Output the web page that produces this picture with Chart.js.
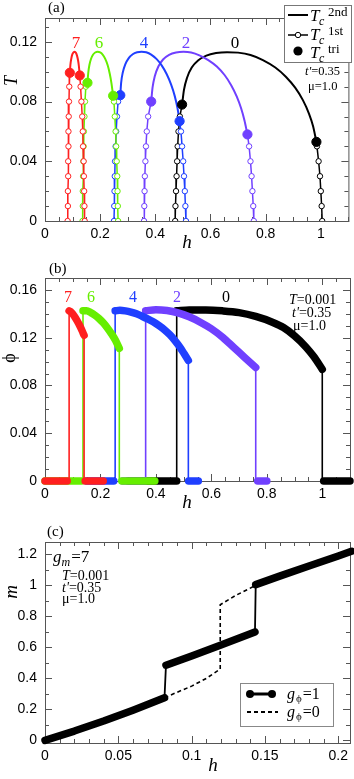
<!DOCTYPE html>
<html lang="en">
<head>
<meta charset="UTF-8">
<title>Phase diagram T-h, order parameter and magnetization</title>
<script src="https://cdn.jsdelivr.net/npm/chart.js"></script>
<style>
  body { margin: 0; background: #fff; }
  .wrap { position: relative; width: 354px; height: 779px; }
  canvas { position: absolute; left: 0; }
</style>
</head>
<body>
<div class="wrap">
  <canvas id="chartA" width="354" height="250" style="top:0;width:354px;height:250px"></canvas>
  <canvas id="chartB" width="354" height="260" style="top:250px;width:354px;height:260px"></canvas>
  <canvas id="chartC" width="354" height="269" style="top:510px;width:354px;height:269px"></canvas>
</div>
<script>
// ---------- panel (a): T vs h ----------
const aXTicks = [0, 0.2, 0.4, 0.6, 0.8, 1];
const aYTicks = [0, 0.04, 0.08, 0.12];
const gmLabels = ['7', '6', '4', '2', '0'];

// T_c^2nd line [h, T]; first and last points are the tricritical points
const dome7 = [[0.090,0.0993],[0.092,0.1045],[0.095,0.1085],[0.099,0.1116],[0.104,0.1131],[0.108,0.1134],[0.112,0.1127],[0.116,0.1108],[0.120,0.1075],[0.123,0.1035],[0.126,0.0975]];
const dome6 = [[0.154,0.0926],[0.157,0.0995],[0.161,0.1045],[0.167,0.1087],[0.174,0.1114],[0.182,0.1129],[0.191,0.1134],[0.200,0.1129],[0.209,0.1115],[0.218,0.1088],[0.227,0.1045],[0.235,0.0985],[0.241,0.0922],[0.247,0.0839]];
const dome4 = [[0.273,0.0843],[0.276,0.0925],[0.282,0.0995],[0.291,0.1050],[0.303,0.1090],[0.318,0.1117],[0.334,0.1130],[0.350,0.1134],[0.367,0.1130],[0.385,0.1115],[0.404,0.1086],[0.423,0.1043],[0.441,0.0985],[0.457,0.0915],[0.470,0.0840],[0.480,0.0760],[0.488,0.0669]];
const dome2 = [[0.385,0.0800],[0.390,0.0895],[0.398,0.0970],[0.411,0.1035],[0.428,0.1082],[0.450,0.1113],[0.475,0.1129],[0.502,0.1134],[0.530,0.1129],[0.560,0.1110],[0.592,0.1078],[0.623,0.1035],[0.651,0.0978],[0.675,0.0910],[0.695,0.0835],[0.711,0.0755],[0.723,0.0675],[0.734,0.0580]];
const dome0 = [[0.497,0.0780],[0.504,0.0880],[0.515,0.0960],[0.532,0.1028],[0.556,0.1077],[0.585,0.1108],[0.620,0.1125],[0.660,0.1131],[0.700,0.1128],[0.745,0.1112],[0.790,0.1078],[0.835,0.1028],[0.874,0.0965],[0.907,0.0893],[0.935,0.0810],[0.957,0.0720],[0.972,0.0635],[0.984,0.0530]];

// T_c^1st (open circles), low-h and high-h branch, from top down to T=0
const first7L = [[0.088,0.09],[0.087,0.08],[0.086,0.07],[0.085,0.06],[0.085,0.05],[0.084,0.04],[0.084,0.03],[0.083,0.02],[0.083,0.01],[0.082,0]];
const first7R = [[0.129,0.09],[0.132,0.08],[0.135,0.07],[0.137,0.06],[0.138,0.05],[0.140,0.04],[0.141,0.03],[0.142,0.02],[0.143,0.01],[0.144,0]];
const first6L = [[0.148,0.09],[0.145,0.08],[0.143,0.07],[0.141,0.06],[0.140,0.05],[0.139,0.04],[0.138,0.03],[0.137,0.02],[0.137,0.01],[0.136,0]];
const first6R = [[0.250,0.08],[0.253,0.07],[0.256,0.06],[0.258,0.05],[0.260,0.04],[0.262,0.03],[0.263,0.02],[0.264,0.01],[0.265,0]];
const first4L = [[0.265,0.08],[0.261,0.07],[0.258,0.06],[0.256,0.05],[0.254,0.04],[0.253,0.03],[0.252,0.02],[0.251,0.01],[0.250,0]];
const first4R = [[0.493,0.06],[0.497,0.05],[0.501,0.04],[0.504,0.03],[0.507,0.02],[0.509,0.01],[0.511,0]];
const first2L = [[0.374,0.07],[0.369,0.06],[0.366,0.05],[0.364,0.04],[0.362,0.03],[0.361,0.02],[0.360,0.01],[0.359,0]];
const first2R = [[0.740,0.05],[0.745,0.04],[0.749,0.03],[0.752,0.02],[0.755,0.01],[0.757,0]];
const first0L = [[0.489,0.07],[0.484,0.06],[0.481,0.05],[0.479,0.04],[0.477,0.03],[0.475,0.02],[0.473,0.01],[0.472,0]];
const first0R = [[0.986,0.05],[0.992,0.04],[0.997,0.03],[1.000,0.02],[1.003,0.01],[1.005,0]];

// ---------- panel (b): phi vs h at T=0.001 ----------
const bXTicks = [0, 0.2, 0.4, 0.6, 0.8, 1];
const bYTicks = [0, 0.04, 0.08, 0.12, 0.16];
const phi7 = [[0.087,0.1425],[0.095,0.1412],[0.105,0.1382],[0.115,0.1345],[0.125,0.1302],[0.133,0.1262],[0.141,0.1220]];
const phi6 = [[0.137,0.1425],[0.150,0.1425],[0.165,0.1410],[0.180,0.1388],[0.195,0.1360],[0.210,0.1325],[0.225,0.1282],[0.240,0.1232],[0.255,0.1175],[0.268,0.1110]];
const phi4 = [[0.253,0.1425],[0.270,0.1430],[0.290,0.1425],[0.310,0.1415],[0.330,0.1400],[0.350,0.1380],[0.370,0.1358],[0.390,0.1333],[0.410,0.1303],[0.430,0.1268],[0.450,0.1225],[0.470,0.1172],[0.487,0.1120],[0.502,0.1065],[0.517,0.1010]];
const phi2 = [[0.363,0.1425],[0.400,0.1435],[0.440,0.1428],[0.480,0.1408],[0.520,0.1375],[0.560,0.1330],[0.600,0.1275],[0.640,0.1205],[0.680,0.1120],[0.720,0.1035],[0.760,0.0950]];
const phi0 = [[0.475,0.1425],[0.520,0.1432],[0.580,0.1432],[0.640,0.1425],[0.700,0.1410],[0.760,0.1378],[0.820,0.1330],[0.860,0.1285],[0.900,0.1215],[0.940,0.1125],[0.970,0.1040],[1.000,0.0935]];
// h ranges where phi = 0
const zero7 = [[0, 0.08], [0.145, 0.21]];
const zero6 = [[0, 0.132], [0.277, 0.396]];
const zero4 = [[0.15, 0.248], [0.518, 0.553]];
const zero2 = [[0.28, 0.36], [0.767, 0.80]];
const zero0 = [[0.30, 0.475], [1.005, 1.1]];

// ---------- panel (c): m vs h, g_m=7 ----------
const cXTicks = [0, 0.05, 0.1, 0.15, 0.2];
const cYTicks = [0, 0.2, 0.4, 0.6, 0.8, 1, 1.2];
const mOn1 = [[0,0],[0.02,0.06],[0.04,0.125],[0.06,0.195],[0.0815,0.275]];
const mOn2 = [[0.0825,0.485],[0.10,0.545],[0.12,0.615],[0.1432,0.70]];
const mOn3 = [[0.1437,1.005],[0.16,1.06],[0.18,1.125],[0.20,1.19],[0.209,1.22]];
const mOff = [[0.0815,0.275],[0.09,0.31],[0.10,0.35],[0.11,0.40],[0.1195,0.46],[0.1195,0.875],[0.13,0.935],[0.1437,1.0]];

// ---------- styles ----------
const COL = { '7': '#ff1f1f', '6': '#66ee00', '4': '#1f3fff', '2': '#7040ff', '0': '#000000' };
const SERIF = "'Liberation Serif', 'Times New Roman', serif";
const SANS = "'Liberation Sans', Arial, sans-serif";

const pts = a => a.map(p => ({ x: p[0], y: p[1] }));

function put(ctx, s, x, y, font, color, align) {
  ctx.font = font;
  ctx.fillStyle = color || '#000';
  ctx.textAlign = align || 'left';
  ctx.textBaseline = 'alphabetic';
  ctx.fillText(s, x, y);
  return x + ctx.measureText(s).width;
}

function makeScales(xr, yr, xt, yt, xH) {
  const base = t => ({
    type: 'linear',
    afterBuildTicks: s => { s.ticks = t.map(v => ({ value: v })); },
    grid: { display: false, drawTicks: false },
    border: { display: false },
    ticks: { color: '#000', font: { family: SANS, size: 14 }, autoSkip: false, maxRotation: 0,
             callback: v => String(+v.toFixed(3)) }
  });
  const x = base(xt);
  x.min = xr[0]; x.max = xr[1]; x.ticks.padding = 5;
  x.afterFit = s => { s.height = xH; };
  const y = base(yt);
  y.min = yr[0]; y.max = yr[1]; y.ticks.padding = 8;
  y.afterFit = s => { s.width = 45; };
  return { x, y };
}

// box around the plot with inward major and minor ticks on all four sides
const framePlugin = {
  id: 'frame',
  beforeDatasetsDraw(chart, args, opt) {
    const { ctx, chartArea: a, scales: { x, y } } = chart;
    ctx.save();
    ctx.strokeStyle = '#555';
    ctx.lineWidth = 1;
    ctx.strokeRect(a.left + 0.5, a.top + 0.5, a.right - a.left, a.bottom - a.top);
    ctx.beginPath();
    const tx = (v, len) => {
      const p = Math.round(x.getPixelForValue(v)) + 0.5;
      ctx.moveTo(p, a.bottom); ctx.lineTo(p, a.bottom - len);
      ctx.moveTo(p, a.top); ctx.lineTo(p, a.top + len);
    };
    const ty = (v, len) => {
      const p = Math.round(y.getPixelForValue(v)) + 0.5;
      ctx.moveTo(a.left, p); ctx.lineTo(a.left + len, p);
      ctx.moveTo(a.right, p); ctx.lineTo(a.right - len, p);
    };
    const minors = (s, step, f) => {
      for (let k = Math.ceil(s.min / step - 1e-9); k * step <= s.max + 1e-9; k++) f(k * step, 4);
    };
    minors(x, opt.xMinor, tx);
    minors(y, opt.yMinor, ty);
    x.ticks.forEach(t => tx(t.value, 7));
    y.ticks.forEach(t => ty(t.value, 7));
    ctx.stroke();
    ctx.restore();
  },
  afterDraw(chart, args, opt) {
    if (opt.draw) { chart.ctx.save(); opt.draw(chart.ctx, chart); chart.ctx.restore(); }
  }
};

function rotTitle(ctx, s, x, y, font) {
  ctx.save();
  ctx.translate(x, y);
  ctx.rotate(-Math.PI / 2);
  put(ctx, s, 0, 0, font, '#000', 'center');
  ctx.restore();
}

function baseOptions(pad, sc, frame) {
  return {
    responsive: false, animation: false, devicePixelRatio: 1, events: [],
    layout: { padding: pad },
    scales: sc,
    plugins: { legend: { display: false }, tooltip: { enabled: false }, frame: frame }
  };
}

// ---------- chart (a) ----------
const aSets = [];
[['7', dome7, first7L, first7R], ['6', dome6, first6L, first6R], ['4', dome4, first4L, first4R],
 ['2', dome2, first2L, first2R], ['0', dome0, first0L, first0R]].forEach(([g, dome, L, R]) => {
  const c = COL[g];
  const tri = [dome[0], dome[dome.length - 1]];
  aSets.push({ data: pts(tri), showLine: false, pointRadius: 4.6, pointBackgroundColor: c, pointBorderColor: c, order: 0 });
  [[tri[0], ...L], [tri[1], ...R]].forEach(line => {
    aSets.push({ data: pts(line), showLine: true, borderColor: c, borderWidth: 1.5,
      pointRadius: ctx => ctx.dataIndex === 0 ? 0 : 2.7, pointBackgroundColor: '#fff',
      pointBorderColor: c, pointBorderWidth: 1, order: 1 });
  });
  aSets.push({ data: pts(dome), showLine: true, borderColor: c, borderWidth: 2, pointRadius: 0,
    cubicInterpolationMode: 'monotone', order: 2 });
});

new Chart(document.getElementById('chartA'), {
  type: 'scatter',
  data: { datasets: aSets },
  options: baseOptions({ top: 18, right: 4, left: 0, bottom: 0 },
    makeScales([0, 1.1], [0, 0.136], aXTicks, aYTicks, 29),
    { xMinor: 0.05, yMinor: 0.01, draw: (ctx) => {
      put(ctx, '(a)', 48, 12, `15px ${SERIF}`);
      const lx = [76, 99, 144, 186, 235];
      gmLabels.forEach((g, i) => put(ctx, g, lx[i], 48, `17px ${SERIF}`, COL[g], 'center'));
      // legend
      ctx.fillStyle = '#fff'; ctx.fillRect(284, 5, 68, 58);
      ctx.strokeStyle = '#777'; ctx.lineWidth = 1; ctx.strokeRect(284.5, 5.5, 67, 57);
      ctx.strokeStyle = '#000';
      ctx.lineWidth = 2; ctx.beginPath(); ctx.moveTo(288, 15); ctx.lineTo(308, 15); ctx.stroke();
      ctx.lineWidth = 1.5; ctx.beginPath(); ctx.moveTo(288, 35); ctx.lineTo(308, 35); ctx.stroke();
      ctx.fillStyle = '#fff'; ctx.lineWidth = 1; ctx.beginPath(); ctx.arc(298, 35, 2.7, 0, 2 * Math.PI); ctx.fill(); ctx.stroke();
      ctx.fillStyle = '#000'; ctx.beginPath(); ctx.arc(298, 51, 4.6, 0, 2 * Math.PI); ctx.fill();
      [['2nd', 21], ['1st', 40], ['tri', 58]].forEach(([sup, b]) => {
        put(ctx, 'T', 310, b, `italic 17px ${SERIF}`);
        put(ctx, 'c', 319, b + 4, `italic 12px ${SERIF}`);
        put(ctx, sup, 328, b - 5, `13px ${SERIF}`);
      });
      let x = put(ctx, "t'", 305, 75, `italic 12.5px ${SERIF}`);
      put(ctx, '=0.35', x, 75, `12.5px ${SERIF}`);
      put(ctx, '\u03bc=1.0', 308, 90, `12.5px ${SERIF}`);
      put(ctx, 'h', 187, 248, `italic 19px ${SERIF}`, '#000', 'center');
      rotTitle(ctx, 'T', 17, 81, `italic 18px ${SERIF}`);
    } }),
  plugins: [framePlugin]
});

// ---------- chart (b) ----------
const bSets = [];
[['7', phi7, zero7], ['6', phi6, zero6], ['4', phi4, zero4], ['2', phi2, zero2], ['0', phi0, zero0]].forEach(([g, br, zr], i) => {
  const c = COL[g];
  const thick = { showLine: true, borderColor: c, borderWidth: 7.5, borderCapStyle: 'round',
    borderJoinStyle: 'round', pointRadius: 0, clip: false, order: i };
  bSets.push(Object.assign({ data: pts(br), cubicInterpolationMode: 'monotone' }, thick));
  zr.forEach(r => bSets.push(Object.assign({ data: pts([[r[0], 0], [r[1], 0]]) }, thick)));
  const first = br[0], last = br[br.length - 1];
  bSets.push({ data: pts([[first[0], 0], first]), showLine: true, borderColor: c, borderWidth: 1.6, pointRadius: 0, order: i });
  bSets.push({ data: pts([last, [last[0], 0]]), showLine: true, borderColor: c, borderWidth: 1.6, pointRadius: 0, order: i });
});

new Chart(document.getElementById('chartB'), {
  type: 'scatter',
  data: { datasets: bSets },
  options: baseOptions({ top: 28, right: 4, left: 0, bottom: 0 },
    makeScales([0, 1.1], [0, 0.17], bXTicks, bYTicks, 29),
    { xMinor: 0.05, yMinor: 0.01, draw: (ctx) => {
      put(ctx, '(b)', 49, 23, `15px ${SERIF}`);
      const lx = [68, 91, 133, 177, 226];
      gmLabels.forEach((g, i) => put(ctx, g, lx[i], 52, `16px ${SERIF}`, COL[g], 'center'));
      let x = put(ctx, 'T', 289, 54, `italic 14px ${SERIF}`);
      put(ctx, '=0.001', x, 54, `14px ${SERIF}`);
      x = put(ctx, "t'", 292, 67, `italic 14px ${SERIF}`);
      put(ctx, '=0.35', x, 67, `14px ${SERIF}`);
      put(ctx, '\u03bc=1.0', 293, 80, `14px ${SERIF}`);
      put(ctx, 'h', 187, 258, `italic 19px ${SERIF}`, '#000', 'center');
      rotTitle(ctx, '\u03d5', 15, 108, `18px ${SERIF}`);
    } }),
  plugins: [framePlugin]
});

// ---------- chart (c) ----------
const cThick = { showLine: true, borderColor: '#000', borderWidth: 7.5, borderCapStyle: 'round',
  borderJoinStyle: 'round', pointRadius: 0, clip: false, order: 0 };
const cSets = [
  Object.assign({ data: pts(mOn1) }, cThick),
  Object.assign({ data: pts(mOn2) }, cThick),
  Object.assign({ data: pts(mOn3) }, cThick),
  { data: pts([...mOn1, ...mOn2, ...mOn3]), showLine: true, borderColor: '#000', borderWidth: 1.8, pointRadius: 0, order: 1 },
  { data: pts(mOff), showLine: true, borderColor: '#000', borderWidth: 1.6, borderDash: [4, 3], pointRadius: 0, order: 2 }
];

new Chart(document.getElementById('chartC'), {
  type: 'scatter',
  data: { datasets: cSets },
  options: baseOptions({ top: 32, right: 4, left: 0, bottom: 0 },
    makeScales([0, 0.208], [-0.017, 1.28], cXTicks, cYTicks, 36),
    { xMinor: 0.01, yMinor: 0.1, draw: (ctx) => {
      put(ctx, '(c)', 47, 26, `15px ${SERIF}`);
      let x = put(ctx, 'g', 53, 52, `italic 17px ${SERIF}`);
      x = put(ctx, 'm', x, 56, `italic 12px ${SERIF}`);
      put(ctx, '=7', x + 1, 52, `17px ${SERIF}`);
      x = put(ctx, 'T', 62, 70, `italic 14px ${SERIF}`);
      put(ctx, '=0.001', x, 70, `14px ${SERIF}`);
      x = put(ctx, "t'", 62, 82, `italic 14px ${SERIF}`);
      put(ctx, '=0.35', x, 82, `14px ${SERIF}`);
      put(ctx, '\u03bc=1.0', 62, 93, `14px ${SERIF}`);
      // legend
      ctx.strokeStyle = '#888'; ctx.lineWidth = 1; ctx.strokeRect(240.5, 173.5, 93, 43);
      ctx.strokeStyle = '#000'; ctx.fillStyle = '#000';
      ctx.lineWidth = 3; ctx.beginPath(); ctx.moveTo(247, 184); ctx.lineTo(275, 184); ctx.stroke();
      [250, 272].forEach(cx => { ctx.beginPath(); ctx.arc(cx, 184, 4, 0, 2 * Math.PI); ctx.fill(); });
      ctx.lineWidth = 2; ctx.setLineDash([4, 3]);
      ctx.beginPath(); ctx.moveTo(247, 202); ctx.lineTo(278, 202); ctx.stroke(); ctx.setLineDash([]);
      [['=1', 189], ['=0', 207]].forEach(([s, b]) => {
        let xx = put(ctx, 'g', 287, b, `italic 16px ${SERIF}`);
        xx = put(ctx, '\u03d5', xx + 1, b + 3, `11px ${SERIF}`);
        put(ctx, s, xx + 1, b, `16px ${SERIF}`);
      });
      put(ctx, 'h', 213, 261, `italic 19px ${SERIF}`, '#000', 'center');
      rotTitle(ctx, 'm', 17, 82, `italic 19px ${SERIF}`);
    } }),
  plugins: [framePlugin]
});
</script>
</body>
</html>
